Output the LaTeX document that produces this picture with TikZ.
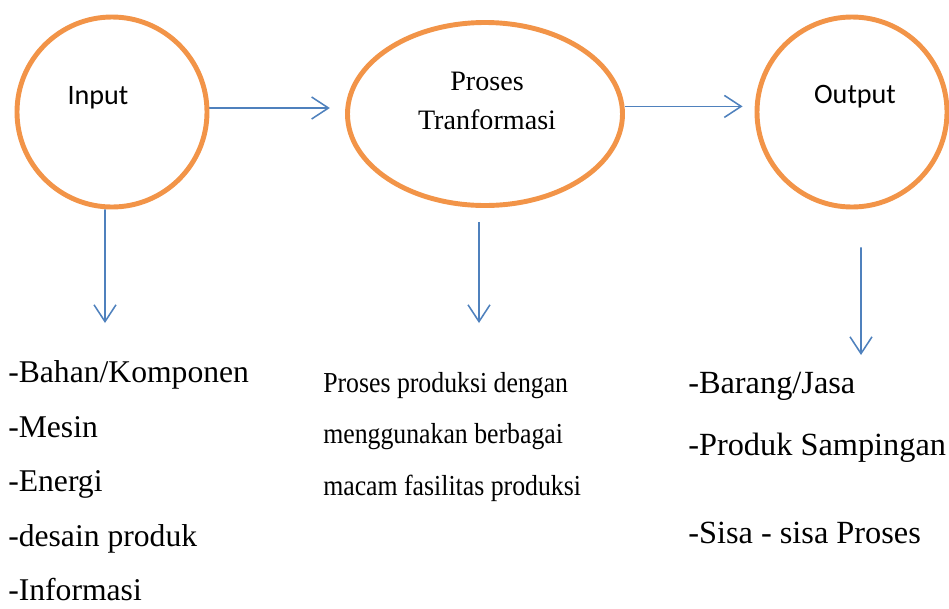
\documentclass[tikz,border=0pt]{standalone}
\usepackage{fontspec}
\setmainfont{Liberation Serif}
\newfontfamily\calibri{Carlito}
\newfontfamily\narrowserif[FakeStretch=0.89]{Liberation Serif}
\usetikzlibrary{shapes.geometric,arrows.meta}
\definecolor{ringorange}{RGB}{242,148,72}
\definecolor{arrowblue}{RGB}{79,129,189}
\pgfdeclarelayer{bg}
\pgfsetlayers{bg,main}

\begin{document}
\begin{tikzpicture}[
        ring/.style={draw=ringorange, line width=3.5pt, inner sep=0pt},
        flow/.style={draw=arrowblue, line width=1.1pt, -{Straight Barb[length=0.42cm, width=0.55cm]}},
        list/.style={anchor=base west, align=left, inner sep=0pt}]
        \useasboundingbox (0cm, 0cm) rectangle (23.725cm, -15.2cm);
        \node (v0) [ring, circle, minimum size=4.75cm, label={[shift={(-0.35cm, 0.35cm)}, font=\calibri\fontsize{20}{24}\selectfont]center:Input}] at (2.8cm, -2.8cm) {};
        \node (v1) [ring, ellipse, minimum width=6.875cm, minimum height=4.575cm, label={[shift={(0.05cm, 0.325cm)}, align=center, font=\fontsize{20}{27.7}\selectfont]center:Proses\\Tranformasi}] at (12.125cm, -2.85cm) {};
        \node (v2) [ring, circle, minimum size=4.75cm, label={[shift={(0.075cm, 0.375cm)}, font=\calibri\fontsize{20}{24}\selectfont]center:Output}] at (21.3cm, -2.8cm) {};
        \coordinate (c0) at (2.625cm, -8.075cm);
        \coordinate (c1) at (11.975cm, -8.075cm);
        \coordinate (c2) at (21.525cm, -8.875cm);
        % base of a list node sits on its last line
        \node (t0) [list, font=\fontsize{22.5}{38.8}\selectfont] at (0.2cm, -15.02cm) {-Bahan/Komponen\\-Mesin\\-Energi\\-desain produk\\-Informasi};
        \node (t1) [list, font=\narrowserif\fontsize{20.6}{36.3}\selectfont] at (8.075cm, -12.375cm) {Proses produksi dengan\\menggunakan berbagai\\macam fasilitas produksi};
        \node (t2) [list, font=\fontsize{23}{44}\selectfont] at (17.2cm, -13.575cm) {-Barang/Jasa\\-Produk Sampingan\\[18.6pt]-Sisa - sisa Proses};
        \begin{pgfonlayer}{bg}
                \draw ([yshift=0.1cm]v0.east) edge [flow, shorten >=0.38cm] ([yshift=0.1cm]v0.east -| v1.west);
                \draw ([yshift=0.19cm]v1.east) edge [flow, shorten >=0.3cm] ([yshift=0.19cm]v1.east -| v2.west);
                \draw ([xshift=-0.175cm]v0.south) edge [flow] (c0);
                \draw ([shift={(-0.15cm, -0.35cm)}]v1.south) edge [flow] (c1);
                \draw ([shift={(0.225cm, -0.95cm)}]v2.south) edge [flow] (c2);
        \end{pgfonlayer}
\end{tikzpicture}
\end{document}
